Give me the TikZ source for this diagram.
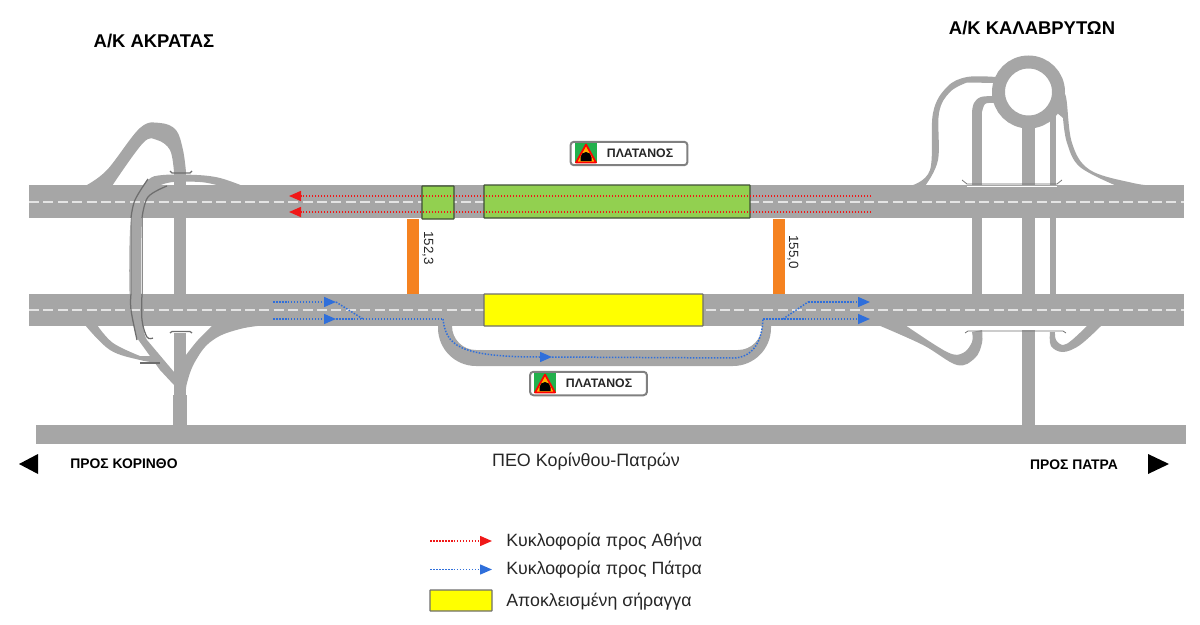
\documentclass[tikz,border=0pt]{standalone}
\usepackage{fontspec}
\setmainfont{Liberation Sans}
\usetikzlibrary{arrows.meta,calc}
\definecolor{RoadGray}{HTML}{A6A6A6}
\definecolor{EdgeGray}{HTML}{6E6E6E}
\definecolor{SoftEdge}{HTML}{8C8C8C}
\definecolor{LaneWhite}{HTML}{E4E4E4}
\definecolor{OpenGreen}{HTML}{92D050}
\definecolor{BoxEdge}{HTML}{3F4F35}
\definecolor{ShutYellow}{HTML}{FFFF00}
\definecolor{LinkOrange}{HTML}{F58220}
\definecolor{FlowBlue}{HTML}{2F6FDB}
\definecolor{FlowRed}{HTML}{F01818}
\definecolor{SignGreen}{HTML}{22B04C}
\definecolor{SignAmber}{HTML}{FFB000}

\begin{document}
\begin{tikzpicture}[
    x=0.02cm, y=-0.02cm,
    road/.style={fill=RoadGray},
    lane/.style={draw=LaneWhite, line width=0.03cm, dash pattern=on 0.2cm off 0.088cm},
    edge/.style={draw=EdgeGray, line width=0.025cm},
    softedge/.style={draw=SoftEdge, line width=0.02cm},
    openbox/.style={draw=BoxEdge, fill=OpenGreen, line width=0.025cm, rounded corners=0.3pt},
    shutbox/.style={draw=EdgeGray, fill=ShutYellow, line width=0.025cm, rounded corners=0.3pt},
    link/.style={fill=LinkOrange},
    redflow/.style={draw=FlowRed, line width=0.03cm, dash pattern=on 0.03cm off 0.03cm, -{Triangle[length=0.24cm,width=0.2cm]}},
    blueflow/.style={draw=FlowBlue, line width=0.03cm, dash pattern=on 0.03cm off 0.03cm},
    blueend/.style={blueflow, -{Triangle[length=0.24cm,width=0.2cm]}},
    signbox/.style={draw=gray, fill=white, line width=0.04cm, rounded corners=2pt, minimum width=2.34cm, minimum height=0.47cm},
    signtext/.style={font=\fontsize{7}{8}\selectfont\bfseries, text=black!85, inner sep=0pt},
    title/.style={font=\fontsize{10.5}{12}\selectfont\bfseries, inner sep=0pt},
    toward/.style={font=\fontsize{7.9}{9}\selectfont\bfseries, inner sep=0pt},
    legendtext/.style={font=\fontsize{10.1}{12}\selectfont, anchor=west, text=black!85, inner sep=0pt},
    tunnelsign/.pic={
      \fill[SignGreen] (0,0) rectangle (22,20);
      \fill[SignAmber, draw=red, line width=0.035cm, line join=round] (11,1.5) -- (21,19.5) -- (1,19.5) -- cycle;
      \fill[black] (5.5,18) -- (5.5,14.5) arc[start angle=180, end angle=360, radius=5.5] -- (16.5,18) -- cycle;
    }
  ]
    \useasboundingbox (0,0) rectangle (1200,625);

    % motorway carriageways and old national road
    \fill[road] (29,185) rectangle (1184,218);
    \fill[road] (29,294) rectangle (1184,326);
    \fill[road] (36,425) rectangle (1186,444);

    % Akrata junction
    \fill[road] (174,172) rectangle (186,295);
    \fill[road] (174,333) rectangle (186,396);
    \fill[road] (173,395) rectangle (187,426);
    \fill[road] plot[smooth, tension=.6] coordinates {(85,186) (107,170) (140,128) (160,123) (176,130) (183,150) (186,172)}
      -- (174,172) -- plot[smooth, tension=.6] coordinates {(174,172) (170,150) (157,140) (143,143) (112,186)} -- cycle;
    \fill[road] plot[smooth, tension=.6] coordinates {(85,325) (110,350) (140,360) (160,363)}
      -- (160,356) -- plot[smooth, tension=.6] coordinates {(140,356) (113,343) (97,325)} -- cycle;
    \fill[road] plot[smooth, tension=.7] coordinates {(268,325) (240,329) (213,340) (196,360) (187,383) (186,397)}
      -- (174,397) -- (186,370) -- plot[smooth, tension=.6] coordinates {(186,355) (198,340) (213,325)} -- cycle;
    \fill[road] plot[smooth, tension=.6] coordinates {(243,186) (220,178) (197,175) (163,175) (148,180) (135,200) (130,230) (130,303) (137,338)}
      -- (160,370) -- (174,385) -- (174,372) -- (147,340)
      -- plot[smooth, tension=.6] coordinates {(147,340) (142,315) (142,220) (148,195) (167,183) (200,182) (220,186)} -- cycle;

    % Kalavryta junction
    \draw[RoadGray, line width=0.26cm] (1028.5,92) circle[radius=30];
    \fill[road] (1022,120) rectangle (1035,295);
    \fill[road] (1022,330) rectangle (1035,426);
    \fill[road] (972,110) rectangle (982,295);
    \fill[road] (1050,112) rectangle (1056,295);
    \fill[road] plot[smooth, tension=.6] coordinates {(972,112) (974,103) (981,97) (996,96)} -- (996,103)
      -- plot[smooth, tension=.6] coordinates {(992,103) (985,104) (982,112)} -- cycle;
    \fill[road] plot[smooth, tension=.6] coordinates {(910,186) (930,170) (933,113) (947,87) (967,77) (996,77)}
      -- (996,83) -- plot[smooth, tension=.6] coordinates {(967,82.5) (950,92) (939,113) (938,160) (925,186)} -- cycle;
    \fill[road] plot[smooth, tension=.6] coordinates {(1060,90) (1066,97) (1072,143) (1090,170) (1133,183) (1157,186)}
      -- (1117,186) -- plot[smooth, tension=.6] coordinates {(1117,186) (1080,167) (1067,143) (1063,118)} -- (1056,112) -- cycle;
    \fill[road] plot[smooth, tension=.6] coordinates {(878,325) (923,345) (957,365) (975,358) (982,343) (982,330)}
      -- (972,332) -- plot[smooth, tension=.6] coordinates {(972,332) (972,342) (963,353) (947,352) (905,325)} -- cycle;
    \fill[road] plot[smooth, tension=.6] coordinates {(1050,332) (1051,346) (1063,352) (1080,345) (1102,325)}
      -- (1088,325) -- plot[smooth, tension=.6] coordinates {(1088,325) (1072,340) (1063,345) (1056,340) (1055,332)} -- cycle;

    % bypass of the closed tunnel
    \fill[road] (438,325) -- (438,328) arc[start angle=180, end angle=90, radius=38] -- (733,366)
      arc[start angle=90, end angle=0, radius=38] -- (771,325) -- (762,325) -- (762,326)
      arc[start angle=0, end angle=90, radius=24] -- (476,350)
      arc[start angle=90, end angle=180, radius=24] -- (452,325) -- cycle;

    % lane marks
    \draw[lane] (29,202) -- (1184,202);
    \draw[lane] (29,310) -- (1184,310);

    % overpass edges
    \draw[edge] plot[smooth, tension=.6] coordinates {(148,179) (135,200) (131,218)};
    \draw[softedge] (131,218) -- (131,294);
    \draw[edge] plot[smooth, tension=.6] coordinates {(131,294) (131,310) (137,340)};
    \draw[edge] plot[smooth, tension=.6] coordinates {(167,186) (148,197) (142,218)};
    \draw[softedge] (142,218) -- (142,294);
    \draw[edge] plot[smooth, tension=.6] coordinates {(142,294) (142,320) (147,337) (153,338)};
    \draw[edge] (170,171) -- (172,173) -- (190,173) -- (192,171);
    \draw[edge] (170,333) -- (172,331.5) -- (190,331.5) -- (192,333);
    \draw[edge] (140,363) -- (160,363);
    \draw[edge, line width=0.015cm] (962,180) -- (967,184) -- (1057,184) -- (1062,180);
    \draw[white, line width=0.02cm] (967,186) -- (1057,186);
    \draw[white, line width=0.03cm] (966,329) -- (1066,329);
    \draw[edge, line width=0.015cm] (965,333) -- (968,331) -- (1063,331) -- (1066,333);

    % tunnel bores and links
    \fill[link] (407,219) rectangle (419,294);
    \fill[link] (773,219) rectangle (785,294);
    \draw[openbox] (422,186) rectangle (454,219);
    \draw[openbox] (484,185) rectangle (750,218);
    \draw[shutbox] (484,294) rectangle (703,326);

    % traffic flow
    \coordinate (redAeast) at (871,196);
    \coordinate (redAwest) at (289,196);
    \coordinate (redBeast) at (871,212);
    \coordinate (redBwest) at (289,212);
    \draw[redflow] (redAeast) -- (redAwest);
    \draw[redflow] (redBeast) -- (redBwest);

    \coordinate (blueAstart) at (273,302);
    \coordinate (blueAtip) at (336,302);
    \coordinate (blueBstart) at (273,319);
    \coordinate (blueBtip) at (336,319);
    \coordinate (mergeW) at (363,319);
    \coordinate (bypassW) at (443,319);
    \coordinate (bypassMid) at (552,357);
    \coordinate (bypassE) at (763,319);
    \coordinate (splitE) at (783,319);
    \coordinate (splitN) at (808,302);
    \coordinate (blueCtip) at (870,302);
    \coordinate (blueDtip) at (870,319);
    \draw[blueend] (blueAstart) -- (blueAtip);
    \draw[blueend] (blueBstart) -- (blueBtip);
    \draw[blueflow] (blueAtip) -- (mergeW);
    \draw[blueflow] (blueBtip) -- (bypassW);
    \draw[blueend] (bypassW) .. controls (446,345) and (458,357) .. (bypassMid);
    \draw[blueflow] (bypassMid) -- (733,358) .. controls (750,358) and (762,345) .. (bypassE);
    \draw[blueflow] (splitE) -- (splitN);
    \draw[blueend] (splitN) -- (blueCtip);
    \draw[blueend] (bypassE) -- (blueDtip);

    % chainage labels
    \node[font=\fontsize{7.6}{9}\selectfont, rotate=-90, inner sep=0pt, text=black!85] (chainW) at (428,248) {152,3};
    \node[font=\fontsize{7.6}{9}\selectfont, rotate=-90, inner sep=0pt, text=black!85] (chainE) at (793,252) {155,0};

    % tunnel signs
    \node[signbox] (signN) at (629,153.5) {};
    \pic at (575,143) {tunnelsign};
    \node[signtext] (signNtext) at (640,153.5) {ΠΛΑΤΑΝΟΣ};
    \node[signbox] (signS) at (588.5,383.5) {};
    \pic at (534,373) {tunnelsign};
    \node[signtext] (signStext) at (599,383.5) {ΠΛΑΤΑΝΟΣ};

    % titles
    \node[title] (akrata) at (154,41) {Α/Κ ΑΚΡΑΤΑΣ};
    \node[title] (kalavryta) at (1032,28) {Α/Κ ΚΑΛΑΒΡΥΤΩΝ};
    \node[toward] (korinthos) at (124,464) {ΠΡΟΣ ΚΟΡΙΝΘΟ};
    \node[toward] (patra) at (1074,465) {ΠΡΟΣ ΠΑΤΡΑ};
    \node[font=\fontsize{10.2}{12}\selectfont, inner sep=0pt, text=black!85] (peo) at (586,461.5) {ΠΕΟ Κορίνθου-Πατρών};
    \fill (19,464) -- (38,454) -- (38,474) -- cycle;
    \fill (1169,464) -- (1148,454) -- (1148,474) -- cycle;

    % legend
    \coordinate (legRedA) at (430,541);
    \coordinate (legRedB) at (492,541);
    \coordinate (legBlueA) at (430,569.5);
    \coordinate (legBlueB) at (492,569.5);
    \draw[redflow] (legRedA) -- (legRedB);
    \draw[blueend] (legBlueA) -- (legBlueB);
    \draw[shutbox] (430,590) rectangle (492,611);
    \node[legendtext] (legRed) at (506,542) {Κυκλοφορία προς Αθήνα};
    \node[legendtext] (legBlue) at (506,570) {Κυκλοφορία προς Πάτρα};
    \node[legendtext] (legShut) at (506,602) {Αποκλεισμένη σήραγγα};
  \end{tikzpicture}
\end{document}
